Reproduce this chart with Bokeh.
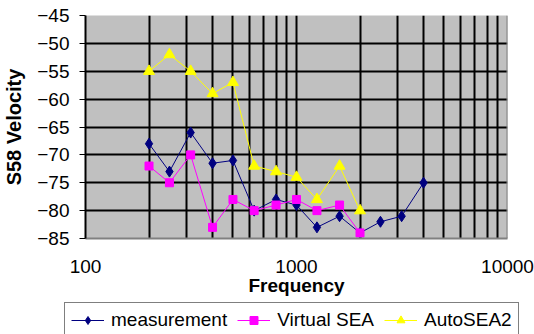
from bokeh.plotting import figure
from bokeh.models import FixedTicker, Range1d, Legend, LegendItem, Span
from bokeh.embed import file_html
from bokeh.resources import INLINE

# ---- data ----
freq_meas = [200, 250, 315, 400, 500, 630, 800, 1000, 1250, 1600, 2000, 2500, 3150, 4000]
measurement = [-68, -73, -66, -71.5, -71, -80, -78, -79, -83, -81, -84, -82, -81, -75]
freq_sim = [200, 250, 315, 400, 500, 630, 800, 1000, 1250, 1600, 2000]
virtual_sea = [-72, -75, -70, -83, -78, -80, -79, -78, -80, -79, -84]
autosea2 = [-55, -52, -55, -59, -57, -72, -73, -74, -78, -72, -80]
series_names = ["measurement", "Virtual SEA", "AutoSEA2"]
x_ticks = [100, 1000, 10000]
x_grid = [100, 200, 300, 400, 500, 600, 700, 800, 900,
          1000, 2000, 3000, 4000, 5000, 6000, 7000, 8000, 9000]
y_ticks = [-85, -80, -75, -70, -65, -60, -55, -50, -45]
y_grid = [-80, -75, -70, -65, -60, -55, -50, -45]

FONT = "Liberation Sans"
NAVY, MAGENTA, YELLOW = "#000080", "#FF00FF", "#FFFF00"
series = [(freq_meas, measurement, NAVY, "diamond", 11),
          (freq_sim, virtual_sea, MAGENTA, "square", 8),
          (freq_sim, autosea2, YELLOW, "triangle", 11)]

p = figure(frame_width=422, frame_height=223, x_axis_type="log",
           x_range=Range1d(100, 10000), y_range=Range1d(-85, -45),
           output_backend="svg", toolbar_location=None,
           min_border_left=85, min_border_right=27,
           min_border_top=15, min_border_bottom=64)

p.background_fill_color = "#C0C0C0"
p.border_fill_color = "white"
p.outline_line_color = None

# grids
p.xgrid.ticker = FixedTicker(ticks=x_grid)
p.ygrid.ticker = FixedTicker(ticks=y_grid)
for g in (p.xgrid, p.ygrid):
    g.grid_line_color = "black"
    g.grid_line_width = 2
    g.minor_grid_line_color = None

# axes
xa = p.xaxis[0]
xa.ticker = FixedTicker(ticks=x_ticks)
xa.major_label_overrides = {100: "100", 1000: "1000", 10000: "10000"}
xa.major_tick_out = 0
xa.major_tick_in = 0
xa.minor_tick_out = 0
xa.minor_tick_in = 0
xa.axis_line_color = "#808080"
xa.axis_line_width = 2
xa.major_label_standoff = 21
xa.axis_label = "Frequency"
xa.axis_label_standoff = -1

ya = p.yaxis[0]
ya.ticker = FixedTicker(ticks=y_ticks)
ya.major_tick_out = 6
ya.major_tick_in = 0
ya.minor_tick_out = 0
ya.minor_tick_in = 0
ya.major_tick_line_color = "black"
ya.axis_line_color = "black"
ya.axis_line_width = 2
ya.major_label_standoff = 10
ya.axis_label = "S58 Velocity"
ya.axis_label_standoff = 9

for ax in (xa, ya):
    ax.major_label_text_font = FONT
    ax.major_label_text_font_size = "19px"
    ax.major_label_text_color = "black"
    ax.axis_label_text_font = FONT
    ax.axis_label_text_font_style = "bold"
    ax.axis_label_text_color = "black"
xa.axis_label_text_font_size = "19px"
ya.axis_label_text_font_size = "20px"

p.add_layout(Span(location=10000, dimension="height", line_color="#808080", line_width=2))

for xs, ys, col, mk, sz in series:
    p.line(xs, ys, line_color=col, line_width=1)
    p.scatter(xs, ys, marker=mk, size=sz, fill_color=col, line_color=col)

# legend strip: a second root figure that holds only the legend
lg = figure(width=534, height=32, output_backend="svg", toolbar_location=None,
            x_axis_location=None, y_axis_location=None, min_border=0,
            x_range=Range1d(0, 1), y_range=Range1d(0, 1))
lg.outline_line_color = None
lg.background_fill_color = "white"
lg.border_fill_color = "white"
lg.xgrid.visible = False
lg.ygrid.visible = False
items = []
for (xs, ys, col, mk, sz), name in zip(series, series_names):
    rl = lg.line(xs, ys, line_color=col, line_width=1, visible=False)
    rs = lg.scatter(xs, ys, marker=mk, size=sz, fill_color=col, line_color=col, visible=False)
    items.append(LegendItem(label=name, renderers=[rl, rs]))

legend = Legend(items=items, location=(64, -4), orientation="horizontal")
legend.border_line_color = "black"
legend.border_line_width = 1
legend.background_fill_color = "white"
legend.background_fill_alpha = 1
legend.inactive_fill_alpha = 0
legend.label_text_font = FONT
legend.label_text_font_size = "19px"
legend.label_text_color = "black"
legend.padding = 6
legend.spacing = 10
legend.glyph_width = 33
legend.glyph_height = 20
legend.label_standoff = 7
legend.label_height = 20
legend.margin = 0
lg.add_layout(legend)

open("out.html", "w").write(file_html([p, lg], INLINE))
